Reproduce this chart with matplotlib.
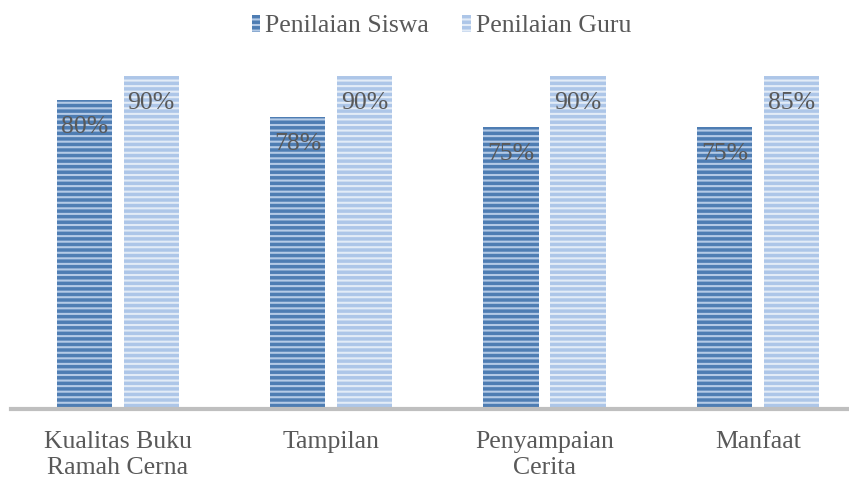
import matplotlib.pyplot as plt
import numpy as np

# categories and values
categories = ["Kualitas Buku\nRamah Cerna", "Tampilan", "Penyampaian\nCerita", "Manfaat"]
siswa_height = [83.5, 78.9, 76.2, 76.2]
guru_height = [90, 90, 90, 90]
siswa_label = ["80%", "78%", "75%", "75%"]
guru_label = ["90%", "90%", "90%", "85%"]

plt.rcParams['font.family'] = ['Liberation Serif', 'DejaVu Serif']
plt.rcParams['hatch.linewidth'] = 1.5
text_col = "#595959"
fs = 18.5

fig = plt.figure(figsize=(8.49, 4.79), dpi=100)
ax = fig.add_axes([11 / 849, 70 / 479, 1 - 11 / 849, 370 / 479])

x = np.arange(len(categories))
off = 0.157
w = 0.258

b1 = ax.bar(x - off, siswa_height, w, color="#4e7db3", edgecolor="#b4cae6",
            hatch="---", linewidth=0, label="Penilaian Siswa")
b2 = ax.bar(x + off, guru_height, w, color="#adc6e8", edgecolor="#e3ecf7",
            hatch="---", linewidth=0, label="Penilaian Guru")

# value labels sit a little below each bar top
for bars, labels in [(b1, siswa_label), (b2, guru_label)]:
    for rect, lab in zip(bars, labels):
        ax.text(rect.get_x() + rect.get_width() / 2, rect.get_height() - 7.3, lab,
                ha="center", va="center", fontsize=fs, color=text_col)

ax.set_xlim(-0.5, 3.427)
ax.set_ylim(0, 100)
ax.set_yticks([])
ax.set_xticks(x)
ax.set_xticklabels(categories, fontsize=fs, color=text_col, linespacing=1.25)
ax.tick_params(axis="x", length=0, pad=16)
for s in ["top", "right", "left"]:
    ax.spines[s].set_visible(False)
ax.spines["bottom"].set_color("#bfbfbf")
ax.spines["bottom"].set_linewidth(3)

leg = fig.legend(handles=[b1, b2], loc="center", bbox_to_anchor=(0.52, 0.945), ncol=2,
                 frameon=False, fontsize=fs, handlelength=0.32, handleheight=0.6,
                 handletextpad=0.2, columnspacing=1.3, labelcolor=text_col)

fig.savefig("out.png", dpi=100)
